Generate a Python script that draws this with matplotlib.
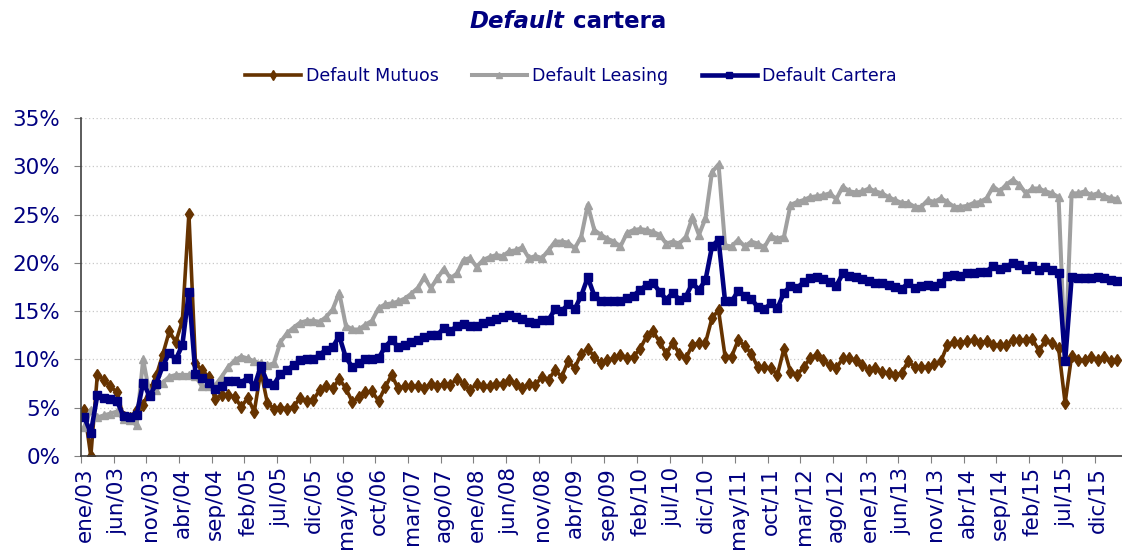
import matplotlib
matplotlib.use("Agg")
import matplotlib.pyplot as plt
import numpy as np

# monthly series, ene/03 .. mar/16 (%)
mutuos = [4.8, 0.0, 8.4, 7.9, 7.2, 6.6, 4.0, 3.9, 4.8, 5.3,
          6.8, 8.3, 10.5, 12.9, 11.8, 14.0, 25.1, 9.6, 8.9, 8.2,
          5.9, 6.3, 6.3, 6.1, 5.1, 6.0, 4.6, 8.8, 5.5, 4.9,
          5.0, 4.9, 5.1, 6.0, 5.7, 5.8, 6.8, 7.2, 7.0, 8.0,
          7.0, 5.6, 6.1, 6.6, 6.7, 5.7, 7.1, 8.4, 7.0, 7.2,
          7.2, 7.2, 7.0, 7.5, 7.2, 7.5, 7.4, 8.0, 7.5, 6.8,
          7.5, 7.2, 7.2, 7.5, 7.5, 7.9, 7.5, 7.0, 7.5, 7.4,
          8.2, 7.9, 8.9, 8.2, 9.8, 9.1, 10.6, 11.1, 10.3, 9.6,
          9.9, 10.1, 10.5, 10.1, 10.3, 11.1, 12.4, 12.9, 11.8, 10.6,
          11.7, 10.6, 10.1, 11.5, 11.7, 11.7, 14.3, 15.1, 10.3, 10.3,
          12.0, 11.4, 10.6, 9.2, 9.2, 9.1, 8.4, 11.1, 8.7, 8.4,
          9.2, 10.1, 10.5, 9.9, 9.4, 9.1, 10.1, 10.1, 9.9, 9.4,
          8.9, 9.1, 8.7, 8.6, 8.4, 8.6, 9.8, 9.2, 9.2, 9.2,
          9.5, 9.8, 11.5, 11.8, 11.7, 11.9, 12.0, 11.7, 11.9, 11.5,
          11.5, 11.5, 12.0, 12.0, 12.0, 12.1, 10.9, 12.0, 11.7, 11.2,
          5.5, 10.4, 9.9, 9.9, 10.3, 9.9, 10.2, 9.8, 9.9]

leasing = [3.0, 4.8, 4.0, 4.2, 4.4, 4.6, 3.8, 3.7, 3.2, 10.0,
           6.4, 6.8, 7.6, 8.2, 8.4, 8.4, 8.4, 8.3, 7.2, 7.2,
           7.3, 8.2, 9.2, 9.9, 10.3, 10.1, 9.8, 9.6, 9.4, 9.6,
           11.8, 12.7, 13.3, 13.8, 14.0, 14.0, 13.9, 14.4, 15.2, 16.9,
           13.5, 13.1, 13.1, 13.6, 14.0, 15.3, 15.7, 15.8, 16.0, 16.3,
           16.8, 17.4, 18.5, 17.4, 18.4, 19.4, 18.4, 18.9, 20.3, 20.5,
           19.6, 20.3, 20.6, 20.8, 20.7, 21.2, 21.3, 21.6, 20.5, 20.7,
           20.5, 21.3, 22.2, 22.2, 22.1, 21.5, 22.7, 26.0, 23.4, 22.9,
           22.5, 22.2, 21.7, 23.1, 23.4, 23.5, 23.4, 23.2, 22.9, 22.0,
           22.2, 22.0, 22.7, 24.7, 22.9, 24.6, 29.4, 30.2, 21.8, 21.7,
           22.4, 21.7, 22.2, 22.0, 21.6, 22.8, 22.5, 22.7, 26.0, 26.3,
           26.5, 26.8, 26.9, 27.0, 27.2, 26.6, 27.9, 27.4, 27.3, 27.4,
           27.7, 27.4, 27.2, 26.8, 26.5, 26.2, 26.2, 25.8, 25.8, 26.5,
           26.3, 26.7, 26.3, 25.8, 25.8, 25.9, 26.2, 26.3, 26.7, 27.9,
           27.4, 28.1, 28.6, 28.1, 27.2, 27.7, 27.7, 27.4, 27.2, 26.8,
           10.0, 27.2, 27.2, 27.4, 27.0, 27.2, 26.9, 26.7, 26.6]

cartera = [4.0, 2.4, 6.3, 6.0, 5.9, 5.7, 4.1, 4.0, 4.2, 7.6,
           6.2, 7.5, 9.3, 10.7, 10.0, 11.5, 17.0, 8.5, 8.1, 7.6,
           6.9, 7.2, 7.8, 7.8, 7.6, 8.1, 7.2, 9.3, 7.6, 7.4,
           8.5, 8.9, 9.4, 9.9, 10.0, 10.0, 10.5, 11.0, 11.3, 12.4,
           10.2, 9.2, 9.6, 10.0, 10.0, 10.1, 11.3, 12.0, 11.3, 11.5,
           11.8, 12.0, 12.3, 12.5, 12.5, 13.3, 12.9, 13.5, 13.7, 13.5,
           13.5, 13.8, 14.0, 14.2, 14.4, 14.6, 14.4, 14.2, 13.9, 13.8,
           14.1, 14.1, 15.2, 15.0, 15.7, 15.2, 16.6, 18.5, 16.6, 16.1,
           16.1, 16.0, 16.0, 16.4, 16.6, 17.2, 17.7, 17.9, 17.0, 16.2,
           16.9, 16.2, 16.5, 17.9, 17.2, 18.2, 21.7, 22.4, 16.0, 16.0,
           17.1, 16.6, 16.3, 15.4, 15.2, 15.8, 15.3, 16.9, 17.6, 17.4,
           18.0, 18.4, 18.5, 18.3, 18.0, 17.6, 18.9, 18.6, 18.5, 18.3,
           18.1, 17.9, 17.9, 17.7, 17.5, 17.3, 17.9, 17.4, 17.6, 17.7,
           17.6, 17.9, 18.6, 18.7, 18.6, 18.9, 18.9, 19.1, 19.1, 19.7,
           19.4, 19.6, 20.0, 19.8, 19.4, 19.7, 19.3, 19.6, 19.3, 19.0,
           9.8, 18.5, 18.4, 18.4, 18.4, 18.5, 18.4, 18.2, 18.1]

meses = ["ene", "feb", "mar", "abr", "may", "jun",
         "jul", "ago", "sep", "oct", "nov", "dic"]
etiquetas = [f"{meses[k % 12]}/{(3 + k // 12):02d}" for k in range(len(cartera))]

navy = "#000080"
brown = "#663300"
grey = "#A0A0A0"

fig = plt.figure(figsize=(11.22, 5.5), dpi=100)
ax = fig.add_axes([81 / 1122, 1 - 456 / 550, 1 - 81 / 1122, (456 - 118) / 550])

x = np.arange(len(cartera))
ax.plot(x, np.array(mutuos) / 100, color=brown, lw=2.6, marker="d", ms=6,
        label="Default Mutuos")
ax.plot(x, np.array(leasing) / 100, color=grey, lw=2.9, marker="^", ms=6,
        label="Default Leasing")
ax.plot(x, np.array(cartera) / 100, color=navy, lw=3.3, marker="s", ms=6,
        label="Default Cartera")

ax.set_ylim(0, 0.35)
ax.set_xlim(-0.5, len(cartera) - 0.3)
yt = np.arange(0, 0.351, 0.05)
ax.set_yticks(yt)
ax.set_yticklabels([f"{int(round(v * 100))}%" for v in yt])
ax.yaxis.grid(True, color="#C8C8C8", linestyle=(0, (1, 2)), lw=0.9)
ax.set_axisbelow(True)

# tick marks between categories, labels on categories
ax.set_xticks(np.arange(-0.5, len(cartera), 5))
ax.set_xticklabels([])
ax.set_xticks(np.arange(0, len(cartera), 5), minor=True)
ax.set_xticklabels(etiquetas[::5], minor=True, rotation=90, fontsize=15.5, color=navy)
ax.tick_params(axis="x", which="major", length=5, color="#808080")
ax.tick_params(axis="x", which="minor", length=0, pad=8)
ax.tick_params(axis="y", length=5, color="#808080", labelsize=15.5, labelcolor=navy, pad=10)

for s in ["top", "right"]:
    ax.spines[s].set_visible(False)
for s in ["left", "bottom"]:
    ax.spines[s].set_color("#404040")
    ax.spines[s].set_linewidth(1.2)

leg = fig.legend(loc="center", bbox_to_anchor=(571 / 1122, 1 - 76 / 550), ncol=3,
                 frameon=False, fontsize=12.5, handlelength=3.2, handletextpad=0.3,
                 columnspacing=1.9, numpoints=1, markerscale=0.8)
for t in leg.get_texts():
    t.set_color(navy)

# title with mixed styles
fig.canvas.draw()
r = fig.canvas.get_renderer()
t1 = fig.text(0, 0, "Default", fontsize=16.5, fontweight="bold", fontstyle="italic", color=navy)
t2 = fig.text(0, 0, " cartera", fontsize=16.5, fontweight="bold", color=navy)
w1 = t1.get_window_extent(r).width
w2 = t2.get_window_extent(r).width
x0 = 568 - (w1 + w2) / 2
ty = 1 - 22 / 550
t1.set_position((x0 / 1122, ty))
t2.set_position(((x0 + w1) / 1122, ty))
t1.set_va("center")
t2.set_va("center")

fig.savefig("out.png", dpi=100)
